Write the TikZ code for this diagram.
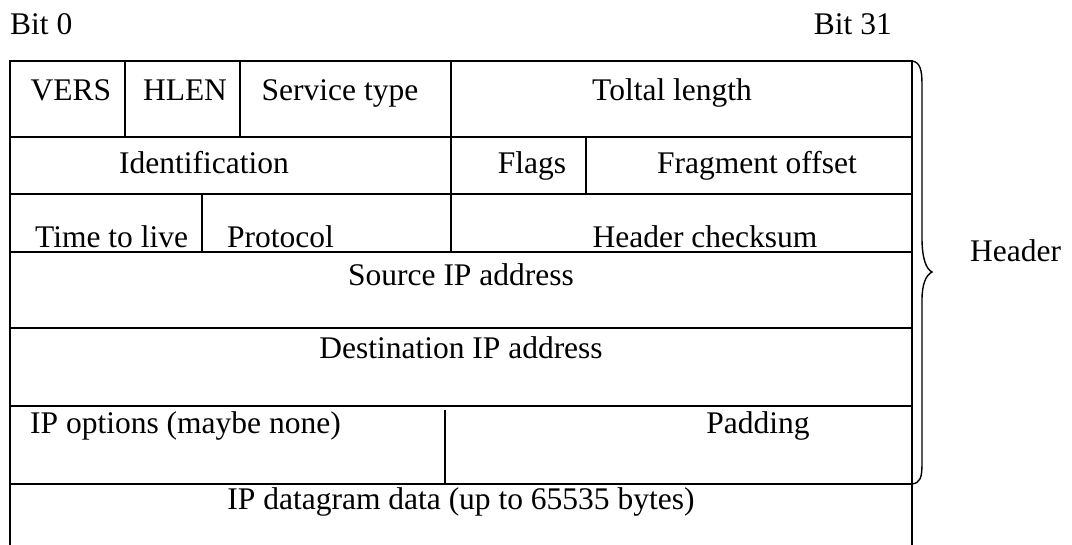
\documentclass[tikz,border=0pt]{standalone}
\usepackage{fontspec}
\setmainfont{Liberation Serif}
\begin{document}
\begin{tikzpicture}[x=1pt,y=-1pt,
  grid/.style={line width=1.4pt,black},
  lbl/.style={inner sep=0pt,font=\fontsize{31.5}{36}\selectfont}]
\useasboundingbox (0,0) rectangle (1072,545);
% outer frame
\draw[grid] (10,545) -- (10,61) -- (912,61) -- (912,545);
% horizontal rows
\foreach \y in {137,194,252,328,406,484}
  \draw[grid] (10,\y) -- (912,\y);
% vertical dividers
\draw[grid] (125,61) -- (125,137);
\draw[grid] (240,61) -- (240,137);
\draw[grid] (451,61) -- (451,252);
\draw[grid] (586,137) -- (586,194);
\draw[grid] (202,194) -- (202,252);
\draw[grid] (445,410) -- (445,484);
% brace
\draw[line width=1.4pt] (912,61) .. controls (920,62) and (922,70) .. (922,84)
  -- (922,238) .. controls (922,258) and (926,269) .. (932,272)
  .. controls (926,275) and (922,284) .. (922,300)
  -- (922,464) .. controls (922,478) and (920,483) .. (912,484);
% labels
\node[lbl,anchor=base west] (b0) at (10,35) {Bit 0};
\node[lbl,anchor=base east] (b31) at (892,35) {Bit 31};
\node[lbl,anchor=base] (vers) at (71,101) {VERS};
\node[lbl,anchor=base] (hlen) at (185,101) {HLEN};
\node[lbl,anchor=base] (svc) at (340,101) {Service type};
\node[lbl,anchor=base] (tot) at (672,101) {Toltal length};
\node[lbl,anchor=base] (ident) at (204,174) {Identification};
\node[lbl,anchor=base] (flags) at (532,174) {Flags};
\node[lbl,anchor=base] (frag) at (757,174) {Fragment offset};
\node[lbl,anchor=base west] (ttl) at (35,248) {Time to live};
\node[lbl,anchor=base west] (proto) at (227,248) {Protocol};
\node[lbl,anchor=base] (chk) at (705,248) {Header checksum};
\node[lbl,anchor=base] (src) at (461,286) {Source IP address};
\node[lbl,anchor=base] (dst) at (461,359) {Destination IP address};
\node[lbl,anchor=base west] (opt) at (30,434) {IP options (maybe none)};
\node[lbl,anchor=base] (pad) at (758,434) {Padding};
\node[lbl,anchor=base] (data) at (461,509) {IP datagram data (up to 65535 bytes)};
\node[lbl,anchor=base west] (hdr) at (970,262) {Header};
\end{tikzpicture}
\end{document}
